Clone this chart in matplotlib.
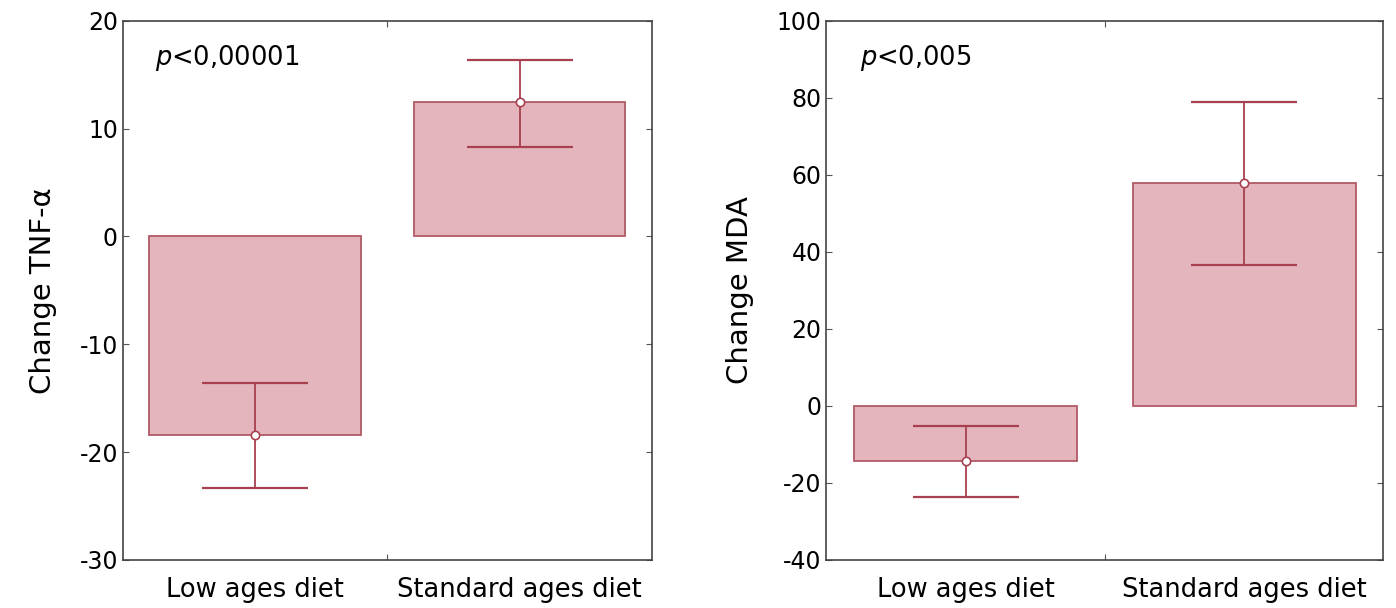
import matplotlib.pyplot as plt
import numpy as np

plt.rcParams["axes.unicode_minus"] = False

categories = ["Low ages diet", "Standard ages diet"]

tnf_mean = [-18.4, 12.5]
tnf_upper = [-13.6, 16.4]
tnf_lower = [-23.3, 8.3]

mda_mean = [-14.3, 57.8]
mda_upper = [-5.2, 78.9]
mda_lower = [-23.7, 36.7]

fill = "#e4b5bc"
edge = "#b25a66"
err = "#a8404f"

fig = plt.figure(figsize=(13.96, 6.08), dpi=100)
ax1 = fig.add_axes([0.088, 0.079, 0.379, 0.887])
ax2 = fig.add_axes([0.592, 0.079, 0.399, 0.887])


def panel(ax, mean, lower, upper, ylim, yticks, ylabel, ptext):
    x = np.arange(len(categories))
    ax.bar(x, mean, width=0.8, color=fill, edgecolor=edge, linewidth=1.3)
    yerr = [np.array(mean) - np.array(lower), np.array(upper) - np.array(mean)]
    ax.errorbar(x, mean, yerr=yerr, fmt="none", ecolor=err, elinewidth=1.3,
                capsize=38, capthick=1.6)
    ax.plot(x, mean, "o", ms=6, mfc="white", mec=err, mew=1.2)
    ax.set_xlim(-0.5, 1.5)
    ax.set_ylim(*ylim)
    ax.set_yticks(yticks)
    ax.set_xticks([0.5])
    ax.set_xticklabels([])
    ax.set_xticks(x, minor=True)
    ax.set_xticklabels(categories, minor=True, fontsize=18.5)
    ax.tick_params(axis="x", which="minor", length=0, pad=12)
    ax.tick_params(axis="both", which="major", direction="in", length=4,
                   top=True, right=True, labelsize=17, color="#555555")
    ax.set_ylabel(ylabel, fontsize=21, labelpad=16)
    for s in ax.spines.values():
        s.set_color("#444444")
        s.set_linewidth(1.2)
    ax.text(0.06, 0.93, ptext, transform=ax.transAxes, fontsize=18.5,
            va="center", ha="left")


panel(ax1, tnf_mean, tnf_lower, tnf_upper, (-30, 20), range(-30, 21, 10),
      "Change TNF-α", "$p$<0,00001")
panel(ax2, mda_mean, mda_lower, mda_upper, (-40, 100), range(-40, 101, 20),
      "Change MDA", "$p$<0,005")

fig.savefig("out.png", dpi=100)
